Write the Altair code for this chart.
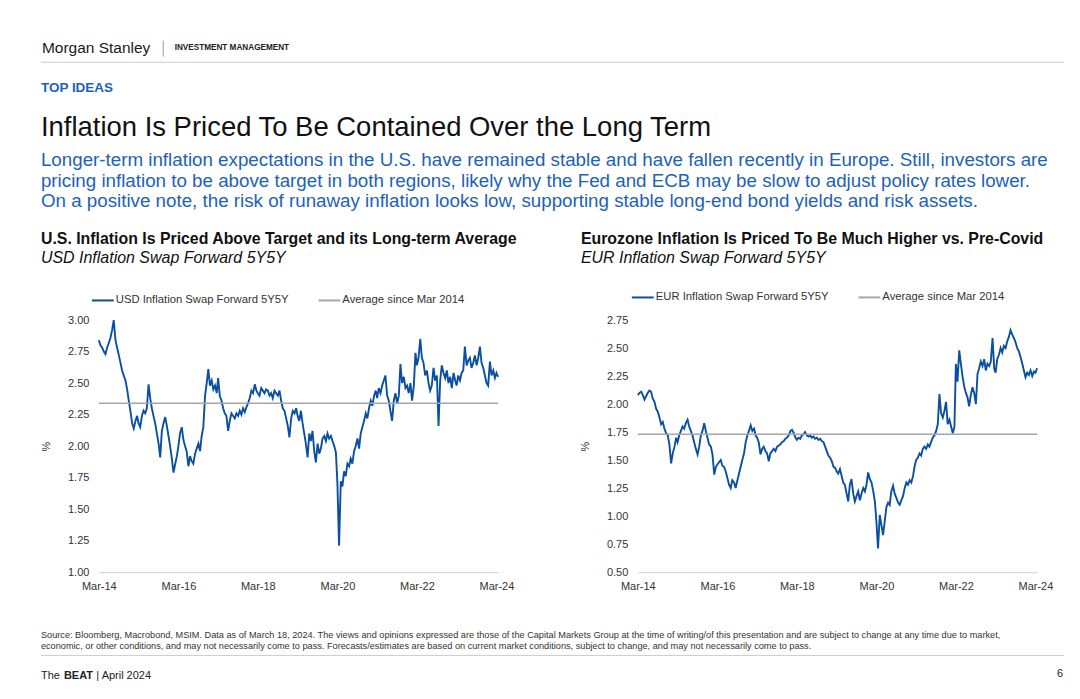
import altair as alt
import pandas as pd

FONT = "Liberation Sans"
TXT_BLUE = "#1c62b9"
LINE_BLUE = "#0b4fa3"
AVG_GRAY = "#a6a6a6"
DARK = "#111111"

# ---------------- data (semi-monthly readings, 1st and 16th of each month) ----------------
usd_2014 = [2.84, 2.80, 2.78, 2.75, 2.73, 2.78, 2.82, 2.86, 2.92, 3.00,
            2.84, 2.78, 2.72, 2.66, 2.60, 2.56, 2.52, 2.45, 2.36, 2.28]
usd_2015 = [2.18, 2.14, 2.20, 2.24, 2.18, 2.15, 2.24, 2.28, 2.26, 2.30, 2.49, 2.38,
            2.30, 2.24, 2.18, 2.10, 2.02, 1.91, 2.12, 2.18, 2.23, 2.16, 2.08, 2.00]
usd_2016 = [1.90, 1.79, 1.86, 1.92, 2.00, 2.10, 2.15, 2.05, 2.00, 1.96, 1.84, 1.92,
            1.88, 1.86, 1.94, 1.98, 2.02, 1.96, 2.08, 2.15, 2.40, 2.50, 2.61, 2.48]
usd_2017 = [2.52, 2.45, 2.48, 2.42, 2.54, 2.40, 2.36, 2.30, 2.26, 2.24, 2.12, 2.20,
            2.26, 2.24, 2.22, 2.26, 2.24, 2.28, 2.25, 2.30, 2.27, 2.31, 2.34, 2.38]
usd_2018 = [2.44, 2.42, 2.49, 2.44, 2.42, 2.40, 2.46, 2.44, 2.42, 2.45, 2.44, 2.40,
            2.42, 2.38, 2.44, 2.42, 2.40, 2.44, 2.36, 2.30, 2.28, 2.22, 2.16, 2.07]
usd_2019 = [2.22, 2.28, 2.26, 2.30, 2.24, 2.20, 2.28, 2.18, 2.10, 2.02, 1.91, 2.10,
            2.04, 2.12, 1.96, 1.87, 2.02, 1.94, 1.98, 2.06, 2.08, 2.04, 2.10, 2.06]
usd_2020 = [2.08, 2.04, 2.00, 1.95, 1.70, 1.21, 1.72, 1.68, 1.80, 1.76, 1.86, 1.84,
            1.90, 1.86, 1.96, 2.00, 2.06, 1.98, 2.10, 2.15, 2.20, 2.26, 2.22, 2.30]
usd_2021 = [2.36, 2.32, 2.40, 2.44, 2.38, 2.46, 2.42, 2.48, 2.52, 2.56, 2.40, 2.36,
            2.28, 2.20, 2.36, 2.42, 2.34, 2.40, 2.65, 2.50, 2.55, 2.46, 2.48, 2.42]
usd_2022 = [2.50, 2.36, 2.48, 2.74, 2.64, 2.70, 2.85, 2.70, 2.66, 2.56, 2.60, 2.50,
            2.44, 2.48, 2.62, 2.52, 2.56, 2.16, 2.52, 2.64, 2.58, 2.54, 2.60, 2.50]
usd_2023 = [2.55, 2.46, 2.58, 2.52, 2.48, 2.56, 2.52, 2.58, 2.60, 2.79, 2.64, 2.68,
            2.70, 2.62, 2.66, 2.72, 2.64, 2.70, 2.79, 2.66, 2.62, 2.56, 2.50, 2.48]
usd_2024 = [2.67, 2.56, 2.60, 2.54, 2.58, 2.55]

eur_2014 = [2.08, 2.10, 2.11, 2.08, 2.04, 2.07, 2.10, 2.12, 2.11, 2.05,
            2.02, 1.96, 1.93, 1.88, 1.82, 1.84, 1.78, 1.74, 1.72, 1.64]
eur_2015 = [1.47, 1.56, 1.62, 1.70, 1.66, 1.72, 1.76, 1.80, 1.78, 1.83, 1.86, 1.80,
            1.76, 1.72, 1.66, 1.60, 1.55, 1.62, 1.72, 1.76, 1.83, 1.76, 1.70, 1.64]
eur_2016 = [1.62, 1.55, 1.37, 1.44, 1.46, 1.48, 1.50, 1.45, 1.44, 1.40, 1.34, 1.28,
            1.25, 1.32, 1.30, 1.25, 1.32, 1.38, 1.44, 1.50, 1.56, 1.66, 1.72, 1.76]
eur_2017 = [1.81, 1.76, 1.78, 1.72, 1.70, 1.66, 1.55, 1.60, 1.62, 1.58, 1.56, 1.49,
            1.56, 1.58, 1.60, 1.58, 1.62, 1.63, 1.64, 1.66, 1.67, 1.69, 1.70, 1.72]
eur_2018 = [1.76, 1.77, 1.74, 1.70, 1.68, 1.70, 1.69, 1.72, 1.73, 1.75, 1.72, 1.71,
            1.72, 1.70, 1.71, 1.69, 1.70, 1.68, 1.69, 1.67, 1.66, 1.62, 1.58, 1.54]
eur_2019 = [1.52, 1.49, 1.44, 1.43, 1.40, 1.38, 1.42, 1.36, 1.30, 1.28, 1.20, 1.13,
            1.28, 1.33, 1.20, 1.13, 1.18, 1.22, 1.14, 1.20, 1.25, 1.22, 1.28, 1.39]
eur_2020 = [1.33, 1.30, 1.22, 1.13, 0.95, 0.71, 1.01, 0.92, 0.83, 0.95, 1.08, 1.12,
            1.10, 1.22, 1.27, 1.20, 1.16, 1.12, 1.10, 1.14, 1.18, 1.25, 1.30, 1.28]
eur_2021 = [1.32, 1.30, 1.36, 1.45, 1.50, 1.52, 1.56, 1.54, 1.60, 1.62, 1.60, 1.64,
            1.62, 1.66, 1.70, 1.72, 1.76, 1.82, 2.09, 1.92, 1.88, 1.94, 2.02, 1.82]
eur_2022 = [1.86, 1.80, 1.74, 1.80, 2.36, 2.20, 2.48, 2.36, 2.25, 2.16, 2.10, 2.06,
            1.98, 2.08, 2.15, 2.10, 2.00, 2.27, 2.32, 2.38, 2.34, 2.40, 2.30, 2.36]
eur_2023 = [2.34, 2.38, 2.59, 2.32, 2.28, 2.40, 2.44, 2.50, 2.46, 2.52, 2.50, 2.56,
            2.60, 2.66, 2.62, 2.59, 2.55, 2.50, 2.47, 2.42, 2.36, 2.30, 2.24, 2.28]
eur_2024 = [2.26, 2.30, 2.25, 2.29, 2.28, 2.32]

usd_values = (usd_2014 + usd_2015 + usd_2016 + usd_2017 + usd_2018 + usd_2019
              + usd_2020 + usd_2021 + usd_2022 + usd_2023 + usd_2024)
eur_values = (eur_2014 + eur_2015 + eur_2016 + eur_2017 + eur_2018 + eur_2019
              + eur_2020 + eur_2021 + eur_2022 + eur_2023 + eur_2024)

usd_average = 2.34
eur_average = 1.73

usd_label = "USD Inflation Swap Forward 5Y5Y"
eur_label = "EUR Inflation Swap Forward 5Y5Y"
avg_label = "Average since Mar 2014"

usd_ticks = [1.00, 1.25, 1.50, 1.75, 2.00, 2.25, 2.50, 2.75, 3.00]
eur_ticks = [0.50, 0.75, 1.00, 1.25, 1.50, 1.75, 2.00, 2.25, 2.50, 2.75]
tick_years = [2014, 2016, 2018, 2020, 2022, 2024]

months = pd.date_range("2014-03-01", "2024-03-01", freq="MS")
dates = [(m + pd.Timedelta(days=k)).strftime("%Y-%m-%dT00:00:00") for m in months for k in (0, 15)]
assert len(dates) == len(usd_values) == len(eur_values)

one = pd.DataFrame({"k": [0]})

# ---------------- helpers ----------------
W, H = 400, 252.5


def label(text, x, y, size, color=DARK, weight="normal", style="normal", align="left"):
    return alt.Chart(one).mark_text(
        text=text, align=align, baseline="alphabetic", fontSize=size,
        fontWeight=weight, fontStyle=style, color=color, font=FONT
    ).encode(x=alt.value(x), y=alt.value(y))


def hline(x1, x2, y, color, w=1):
    return alt.Chart(one).mark_rule(color=color, strokeWidth=w).encode(
        x=alt.value(x1), x2=alt.value(x2), y=alt.value(y))


def vline(x, y1, y2, color, w=1):
    return alt.Chart(one).mark_rule(color=color, strokeWidth=w).encode(
        x=alt.value(x), y=alt.value(y1), y2=alt.value(y2))


def panel(values, avg, series_label, ticks, lo, hi, legend_x, legend_y):
    df = pd.DataFrame({"date": dates, "value": values, "series": series_label})
    avg_df = pd.DataFrame({"value": [avg], "series": [avg_label]})
    color_scale = alt.Scale(domain=[series_label, avg_label], range=[LINE_BLUE, AVG_GRAY])
    legend = alt.Legend(
        orient="none", legendX=legend_x, legendY=legend_y, direction="horizontal",
        title=None, symbolType="stroke", symbolSize=480, symbolStrokeWidth=2,
        labelFont=FONT, labelFontSize=11.3, labelColor="#333333", columnPadding=25,
        labelOffset=1, padding=0, labelLimit=400)
    color = alt.Color("series:N", scale=color_scale, legend=legend)
    x = alt.X("date:T",
              scale=alt.Scale(domain=[alt.DateTime(year=2014, month=3, date=1),
                                      alt.DateTime(year=2024, month=3, date=16)]),
              axis=alt.Axis(values=[alt.DateTime(year=yr, month=3, date=1) for yr in tick_years],
                            format="%b-%y", title=None, grid=False, ticks=False,
                            domainColor="#d9d9d9", domainWidth=1.2, labelFlush=False,
                            labelOverlap=False, labelFont=FONT, labelFontSize=11,
                            labelColor="#333333", labelPadding=8))
    y = alt.Y("value:Q", scale=alt.Scale(domain=[lo, hi], nice=False, zero=False),
              axis=alt.Axis(values=ticks, format=".2f", title="%", grid=False, ticks=False,
                            domain=False, labelOverlap=False, labelFont=FONT, labelFontSize=11,
                            labelColor="#333333", labelPadding=10, titleFont=FONT,
                            titleFontSize=11, titleFontWeight="normal", titleColor="#333333",
                            titlePadding=16))
    line = alt.Chart(df).mark_line(strokeWidth=1.9, interpolate="linear").encode(
        x=x, y=y, color=color)
    avg_rule = alt.Chart(avg_df).mark_rule(strokeWidth=1.6).encode(y=y, color=color)
    return line, avg_rule


usd_line, usd_avg = panel(usd_values, usd_average, usd_label, usd_ticks, 1.0, 3.0, -8, -32)
eur_line, eur_avg = panel(eur_values, eur_average, eur_label, eur_ticks, 0.5, 2.75, -7, -35)

# invisible page frame (page coords minus left-plot origin at 98, 319)
frame = alt.Chart(one).mark_rect(fill="white", opacity=0).encode(
    x=alt.value(-90), x2=alt.value(974), y=alt.value(-311), y2=alt.value(372))

header = [
    label("Morgan Stanley", -57, -268, 15.5, color="#1a1a1a"),
    vline(64.5, -280, -264, "#9a9a9a"),
    label("INVESTMENT MANAGEMENT", 76, -270.5, 8.2, color="#222222", weight="bold"),
    hline(-58, 967, -258.3, "#cccccc"),
    label("TOP IDEAS", -58, -228, 13.5, color=TXT_BLUE, weight="bold"),
    label("Inflation Is Priced To Be Contained Over the Long Term", -58, -184.3, 27.5),
    label("Longer-term inflation expectations in the U.S. have remained stable and have fallen "
          "recently in Europe. Still, investors are", -58, -154.3, 18.8, color=TXT_BLUE),
    label("pricing inflation to be above target in both regions, likely why the Fed and ECB may "
          "be slow to adjust policy rates lower.", -58, -133.7, 18.8, color=TXT_BLUE),
    label("On a positive note, the risk of runaway inflation looks low, supporting stable "
          "long-end bond yields and risk assets.", -58, -113, 18.8, color=TXT_BLUE),
    label("U.S. Inflation Is Priced Above Target and its Long-term Average", -58, -75.7, 15.9,
          weight="bold"),
    label("USD Inflation Swap Forward 5Y5Y", -58, -57.3, 16, style="italic"),
    label("Eurozone Inflation Is Priced To Be Much Higher vs. Pre-Covid", 483, -75.7, 15.9,
          weight="bold"),
    label("EUR Inflation Swap Forward 5Y5Y", 483, -57.3, 16, style="italic"),
]

footer = [
    label("Source: Bloomberg, Macrobond, MSIM. Data as of March 18, 2024. The views and opinions "
          "expressed are those of the Capital Markets Group at the time of writing/of this "
          "presentation and are subject to change at any time due to market,", -58, 318.5, 9.2,
          color="#333333"),
    label("economic, or other conditions, and may not necessarily come to pass. Forecasts/estimates "
          "are based on current market conditions, subject to change, and may not necessarily "
          "come to pass.", -58, 329.5, 9.2, color="#333333"),
    hline(-58, 967, 336, "#cccccc"),
    label("The", -58, 360, 11, color="#222222"),
    label("BEAT", -35, 360, 11, color="#222222", weight="bold"),
    label("| April 2024", -2.5, 360, 11, color="#222222"),
    label("6", 966, 358, 11, color="#222222", align="right"),
]

left = alt.layer(frame, usd_line, usd_avg, *header, *footer).properties(width=W, height=H)
right = alt.layer(eur_line, eur_avg).properties(width=W, height=H)

chart = (
    alt.hconcat(left, right, spacing=140, bounds="flush", padding=0)
    .resolve_scale(x="independent", y="independent", color="independent")
    .resolve_legend(color="independent")
    .configure(font=FONT)
    .configure_axis(labelOverlap=False)
    .configure_view(stroke="transparent")
)

chart.save("out.html", embed_options={"renderer": "svg", "actions": False})
